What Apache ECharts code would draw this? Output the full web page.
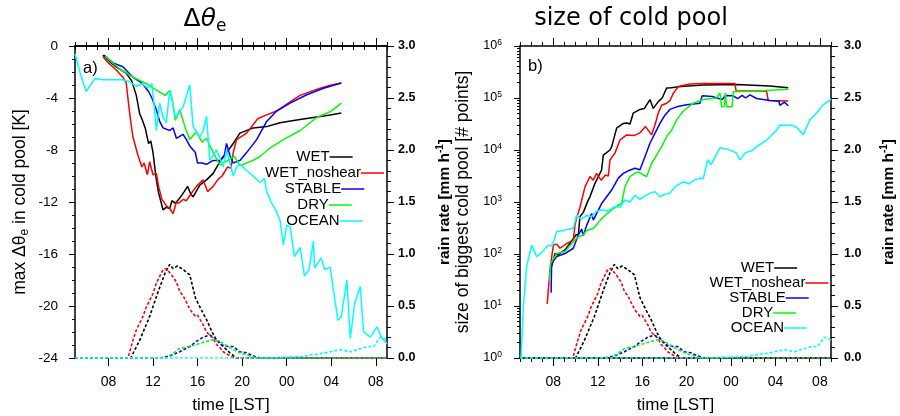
<!DOCTYPE html>
<html><head><meta charset="utf-8">
<script src="https://cdn.jsdelivr.net/npm/echarts@6/dist/echarts.min.js"></script>
<style>html,body{margin:0;padding:0;background:#fff}#c{width:900px;height:416px}</style>
</head><body><div id="c"></div>
<script>
// ---------------- data (time in hours since 00 LST of day 1) ----------------
const names = ['WET', 'WET_noshear', 'STABLE', 'DRY', 'OCEAN'];
const colors = ['#000000', '#ff0000', '#0000ff', '#00ff00', '#00ffff'];
const majorTimes = [8, 12, 16, 20, 24, 28, 32];

// max delta theta_e in cold pool [K]
const wetDth = [[7.5,-0.7],[8.0,-1.1],[8.7,-1.6],[9.6,-2.1],[10.1,-2.7],[10.5,-3.8],[10.8,-5.2],[11.0,-5.6],[11.3,-6.3],[11.6,-7.5],[11.8,-7.3],[12.0,-8.2],[12.3,-10.3],[12.5,-11.3],[12.9,-12.6],[13.2,-12.4],[13.5,-12.5],[13.7,-11.9],[14.0,-12.1],[14.4,-11.7],[14.8,-11.2],[15.1,-10.8],[15.4,-11.4],[15.6,-11.6],[16.2,-10.7],[16.8,-10.3],[17.4,-9.8],[18.0,-8.9],[18.6,-8.2],[19.2,-7.5],[19.8,-6.7],[21.0,-6.3],[22.2,-6.2],[23.4,-5.9],[24.9,-5.7],[26.4,-5.5],[27.9,-5.3],[28.9,-5.15]];
const wetnsDth = [[7.5,-0.8],[8.0,-1.3],[8.7,-1.85],[9.3,-2.4],[9.6,-2.85],[9.8,-4.4],[10.0,-5.8],[10.2,-7.0],[10.65,-8.4],[11.0,-9.3],[11.2,-9.0],[11.5,-9.9],[11.7,-8.9],[12.0,-9.9],[12.3,-9.8],[12.5,-10.8],[12.8,-11.8],[13.2,-12.3],[13.5,-12.5],[13.8,-12.9],[14.1,-12.0],[14.3,-12.1],[14.7,-11.8],[15.0,-11.9],[15.3,-11.5],[15.9,-10.8],[16.5,-10.3],[16.9,-11.2],[17.4,-10.8],[17.8,-10.3],[18.2,-10.0],[18.7,-9.3],[19.0,-9.4],[19.2,-8.2],[19.5,-7.2],[20.4,-6.7],[21.4,-5.6],[22.2,-5.3],[23.1,-5.0],[24.3,-4.3],[25.2,-3.8],[26.0,-3.55],[27.0,-3.25],[28.0,-3.0],[28.9,-2.85]];
const stableDth = [[7.6,-0.7],[8.4,-1.3],[9.3,-1.6],[10.2,-2.4],[11.0,-2.85],[11.6,-3.5],[11.9,-4.0],[12.3,-4.9],[12.6,-5.8],[12.9,-6.3],[13.5,-6.5],[13.8,-6.3],[14.1,-7.1],[14.7,-6.8],[15.0,-7.2],[15.3,-7.7],[15.8,-8.2],[16.0,-9.0],[16.4,-9.0],[16.8,-9.1],[17.4,-8.8],[18.0,-8.8],[18.4,-8.4],[18.6,-7.5],[18.9,-8.4],[19.2,-9.0],[19.8,-8.8],[20.4,-8.2],[21.3,-7.2],[22.2,-5.8],[23.1,-5.0],[24.3,-4.4],[25.8,-3.75],[27.3,-3.25],[28.9,-2.85]];
const dryDth = [[7.7,-0.8],[9.0,-1.75],[10.2,-2.4],[11.4,-2.9],[12.3,-3.4],[13.1,-3.8],[13.5,-3.4],[13.7,-4.0],[14.0,-5.7],[14.4,-4.9],[14.9,-6.3],[15.3,-7.2],[15.9,-6.6],[16.4,-7.4],[16.8,-7.1],[17.4,-8.2],[18.0,-9.15],[18.7,-8.8],[19.3,-8.5],[19.8,-9.2],[20.4,-9.0],[21.0,-8.8],[21.6,-8.5],[22.5,-7.85],[23.7,-7.2],[25.2,-6.5],[26.7,-5.5],[27.9,-5.05],[28.3,-4.8],[28.9,-4.4]];
const oceanDth = [[5.0,-0.6],[5.5,-2.2],[6.0,-3.5],[6.4,-3.0],[6.8,-2.5],[7.5,-2.6],[8.5,-2.6],[9.3,-2.6],[9.9,-2.75],[10.5,-3.1],[11.0,-2.9],[11.5,-3.2],[11.9,-2.9],[12.1,-4.5],[12.3,-6.5],[12.6,-4.4],[12.9,-5.5],[13.2,-5.9],[13.5,-3.4],[13.8,-4.5],[14.0,-5.5],[14.4,-5.0],[14.7,-4.7],[15.3,-3.0],[15.6,-6.2],[16.2,-7.0],[16.5,-6.5],[16.8,-5.4],[17.1,-8.8],[17.7,-8.0],[18.0,-8.6],[18.3,-9.3],[18.6,-8.0],[19.2,-10.0],[19.5,-9.3],[19.8,-9.1],[20.3,-9.5],[21.0,-10.0],[21.6,-10.5],[22.0,-10.2],[22.2,-11.2],[22.6,-12.0],[23.0,-12.6],[23.4,-13.4],[23.7,-15.3],[24.0,-13.8],[24.3,-13.9],[24.7,-16.2],[25.2,-15.5],[25.6,-17.7],[26.0,-17.2],[26.4,-15.0],[26.5,-17.1],[27.1,-16.3],[27.4,-17.2],[27.9,-17.0],[28.2,-18.8],[28.6,-21.1],[28.9,-20.8],[29.4,-18.0],[29.7,-22.5],[30.1,-19.8],[30.6,-18.5],[30.9,-22.0],[31.5,-22.4],[32.1,-21.6],[32.5,-22.4],[33.0,-22.9]];

// rain rate [mm/h]
const wetRain = [[5,0],[10.0,0],[10.8,0.17],[11.7,0.40],[12.5,0.65],[13.1,0.82],[13.5,0.90],[13.8,0.86],[14.2,0.885],[14.7,0.85],[15.3,0.80],[15.8,0.58],[16.4,0.45],[16.8,0.37],[17.3,0.25],[17.7,0.17],[18.3,0.11],[18.9,0.05],[19.5,0],[33,0]];
const wetnsRain = [[5,0],[9.75,0],[10.2,0.17],[10.5,0.27],[11.1,0.40],[11.4,0.49],[12.0,0.62],[12.3,0.72],[12.9,0.85],[13.2,0.86],[13.5,0.82],[13.8,0.78],[14.1,0.73],[14.4,0.64],[14.7,0.60],[15.3,0.47],[15.8,0.40],[16.0,0.41],[16.5,0.32],[16.8,0.25],[17.4,0.19],[17.7,0.13],[18.0,0.10],[18.3,0.06],[18.9,0.02],[19.3,0],[33,0]];
const stableRain = [[5,0],[12.6,0],[13.5,0.02],[14.4,0.06],[15.3,0.11],[15.9,0.16],[16.5,0.20],[17.1,0.22],[17.6,0.19],[18.2,0.125],[18.7,0.11],[19.2,0.11],[19.8,0.06],[20.4,0.05],[21.0,0.02],[21.6,0],[33,0]];
const dryRain = [[5,0],[13.2,0],[14.4,0.09],[15.6,0.12],[16.5,0.15],[17.4,0.175],[18.0,0.16],[18.9,0.10],[19.8,0.05],[20.7,0.02],[21.3,0],[33,0]];
const oceanRain = [[5,0],[22.5,0],[24.3,0.01],[25.5,0.015],[26.1,0.03],[27.3,0.045],[27.9,0.06],[28.8,0.08],[29.7,0.06],[30.9,0.10],[31.3,0.11],[31.8,0.11],[32.4,0.20],[32.7,0.19],[33.0,0.17]];

// size of biggest cold pool [# points]
const wetSize = [[7.7,45],[8.0,76],[8.15,102],[8.4,95],[9.05,120],[9.65,178],[10.05,234],[10.25,234],[10.4,525],[10.7,631],[11.15,1100],[11.3,1260],[11.75,2290],[11.9,2630],[12.35,4170],[12.5,7940],[13.1,10000],[13.25,11500],[13.7,26300],[14.3,32400],[14.6,33100],[14.9,31600],[15.2,51300],[15.8,60300],[16.2,63100],[16.7,93300],[17.0,63100],[17.45,85100],[17.8,100000],[18.2,155000],[18.6,158000],[19.5,166000],[21.5,178000],[24.5,182000],[27.5,170000],[29.15,158000]];
const wetnsSize = [[7.45,11],[7.7,50],[8.0,148],[8.3,155],[8.6,129],[9.2,158],[9.8,186],[9.95,355],[10.1,501],[10.4,794],[10.85,1950],[11.3,3090],[11.6,2630],[11.9,3550],[12.3,2630],[12.7,3310],[12.95,3160],[13.1,6460],[13.55,8710],[14.0,15500],[14.6,19500],[15.3,19100],[15.8,21400],[16.3,28200],[16.85,19500],[17.15,30200],[17.45,51300],[17.75,72400],[18.2,79400],[18.5,89100],[18.8,123000],[19.25,166000],[20.3,186000],[21.5,191000],[24.35,191000],[24.45,138000],[27.2,135000],[27.35,89100],[29.15,87100]];
const stableSize = [[7.8,18],[7.85,66],[8.3,89],[9.05,102],[9.8,129],[10.25,234],[10.55,302],[10.7,224],[11.0,355],[11.45,603],[11.6,447],[12.35,933],[13.25,1700],[13.85,2880],[14.3,3550],[14.75,3980],[15.35,4470],[15.8,4170],[16.25,7410],[16.7,13500],[17.15,20900],[17.6,32400],[18.05,46800],[18.5,60300],[19.1,67600],[20.0,74100],[21.2,79400],[21.4,110000],[22.3,107000],[23.2,93300],[23.5,112000],[24.2,110000],[24.6,97700],[25.0,112000],[25.3,100000],[25.7,115000],[26.3,97700],[27.5,89100],[28.3,87100],[28.4,72400],[28.8,83200],[29.15,70800]];
const drySize = [[7.65,30],[7.75,66],[8.3,102],[9.05,112],[9.65,158],[10.1,204],[10.7,234],[11.0,282],[11.6,309],[12.35,479],[13.25,708],[13.85,871],[14.15,933],[14.45,1950],[14.9,3090],[15.4,3630],[15.65,3800],[16.1,3310],[16.4,3090],[16.85,5500],[17.3,7940],[17.75,11500],[18.2,18200],[18.65,24000],[19.1,38000],[19.7,56200],[20.6,79400],[21.5,93300],[22.7,100000],[23.0,126000],[23.15,67600],[23.4,69200],[23.5,126000],[23.6,67600],[24.1,67600],[24.2,132000],[26.0,135000],[27.5,141000],[29.15,148000]];
const oceanSize = [[5.1,1],[5.3,9.8],[5.6,58],[6.05,148],[6.5,89],[6.95,107],[7.55,148],[7.9,141],[8.3,269],[9.05,288],[9.5,302],[9.8,309],[10.1,562],[10.5,468],[11.0,550],[11.45,525],[11.9,661],[12.35,708],[12.9,676],[13.55,813],[14.0,794],[14.45,1100],[14.9,1000],[15.35,1350],[15.8,1120],[16.3,1320],[16.7,1480],[17.15,1580],[17.6,1260],[18.0,1410],[18.5,1480],[18.95,1950],[19.7,2450],[20.2,2240],[20.7,2630],[21.2,2880],[21.5,2820],[21.9,6460],[22.2,5250],[23.0,11000],[23.6,10500],[24.2,9330],[24.5,8710],[24.8,6460],[25.3,8910],[25.8,9550],[26.3,11500],[27.2,15500],[27.5,17800],[28.1,24000],[28.4,30200],[29.6,29500],[30.0,26300],[30.5,19500],[31.1,38000],[31.7,51300],[32.3,74100],[32.9,91200],[33.0,95500]];

const dthSets = [wetDth, wetnsDth, stableDth, dryDth, oceanDth];
const rainSets = [wetRain, wetnsRain, stableRain, dryRain, oceanRain];
const sizeSets = [wetSize, wetnsSize, stableSize, drySize, oceanSize];

// ---------------- chart ----------------
const F = '"Liberation Sans", Arial, sans-serif';
const FT = '"DejaVu Sans", sans-serif';
const chart = echarts.init(document.getElementById('c'), null, {renderer: 'canvas'});
const black = {color: '#000', width: 1.5};
const pad = v => String(v % 24).padStart(2, '0');

function xAxes(g) {
  const base = {gridIndex: g, type: 'value', min: 5, max: 33, splitLine: {show: false}};
  return [
    {...base, position: 'bottom', interval: 1,
      axisLine: {show: true, lineStyle: black},
      axisTick: {length: 4, lineStyle: {color: '#000', width: 1}},
      axisLabel: {margin: 17, fontSize: 14, color: '#000', fontFamily: F,
        formatter: v => (v % 4 === 0 ? pad(v) : '')},
      name: 'time [LST]', nameLocation: 'middle', nameGap: 39,
      nameTextStyle: {fontSize: 17, color: '#000', fontFamily: F, verticalAlign: 'top'}},
    {...base, position: 'bottom', axisLine: {show: false},
      axisTick: {length: 8, customValues: majorTimes, lineStyle: {color: '#000', width: 1}},
      axisLabel: {show: false}},
    {...base, position: 'top', interval: 1,
      axisLine: {show: true, lineStyle: black},
      axisTick: {length: 4, lineStyle: {color: '#000', width: 1}}, axisLabel: {show: false}},
    {...base, position: 'top', axisLine: {show: false},
      axisTick: {length: 8, customValues: majorTimes, lineStyle: {color: '#000', width: 1}},
      axisLabel: {show: false}}
  ];
}
function rainAxis(g, gap, margin) {
  return {gridIndex: g, type: 'value', position: 'right', min: 0, max: 3, interval: 0.5,
    splitLine: {show: false},
    axisLine: {show: true, lineStyle: black},
    axisTick: {show: true, length: 7, lineStyle: {color: '#000', width: 1}},
    minorTick: {show: true, splitNumber: 5, length: 4, lineStyle: {color: '#000', width: 1}},
    axisLabel: {margin: margin, fontSize: 12.5, fontWeight: 'bold', color: '#000', fontFamily: F,
      formatter: v => v.toFixed(1)},
    name: 'rain rate [mm h{s|-1}]', nameLocation: 'middle', nameGap: gap, nameRotate: 90,
    nameTextStyle: {fontSize: 15.5, fontWeight: 'bold', color: '#000', fontFamily: F, lineHeight: 20,
      rich: {s: {fontSize: 10, fontWeight: 'bold', fontFamily: F, color: '#000', verticalAlign: 'top', lineHeight: 10}}}
  };
}

const minorLog = [];
for (let d = 0; d < 6; d++) for (let k = 2; k <= 9; k++) minorLog.push(d + Math.log10(k));

const yAxis = [
  // panel a left
  {gridIndex: 0, type: 'value', position: 'left', min: -24, max: 0, interval: 4,
    splitLine: {show: false},
    axisLine: {show: true, lineStyle: black},
    axisTick: {length: 6, lineStyle: {color: '#000', width: 1}},
    minorTick: {show: true, splitNumber: 4, length: 3, lineStyle: {color: '#000', width: 1}},
    axisLabel: {margin: 17, fontSize: 13.5, color: '#000', fontFamily: F},
    name: 'max Δθ{e|e} in cold pool [K]', nameLocation: 'middle', nameGap: 44, nameRotate: 90,
    nameTextStyle: {fontSize: 17.5, color: '#000', fontFamily: F, lineHeight: 22,
      rich: {e: {fontSize: 12, fontFamily: F, color: '#000', verticalAlign: 'bottom', lineHeight: 12}}}},
  // panel a right
  rainAxis(0, 48, 11),
  // panel b left (log)
  {gridIndex: 1, type: 'log', logBase: 10, position: 'left', min: 1, max: 1000000,
    splitLine: {show: false},
    axisLine: {show: true, lineStyle: black},
    axisTick: {length: 6, lineStyle: {color: '#000', width: 1}},
    axisLabel: {margin: 18, fontSize: 12.5, color: '#000', fontFamily: F, lineHeight: 16,
      formatter: v => '10{s|' + Math.round(Math.log10(v)) + '}',
      rich: {s: {fontSize: 8.5, fontFamily: F, color: '#000', verticalAlign: 'top', lineHeight: 8}}},
    name: 'size of biggest cold pool [# points]', nameLocation: 'middle', nameGap: 48, nameRotate: 90,
    nameTextStyle: {fontSize: 17.5, color: '#000', fontFamily: F}},
  // panel b minor log ticks
  {gridIndex: 1, type: 'value', position: 'left', min: 0, max: 6,
    splitLine: {show: false}, axisLine: {show: false},
    axisTick: {length: 3, customValues: minorLog, lineStyle: {color: '#000', width: 1}},
    axisLabel: {show: false}},
  // panel b right
  rainAxis(1, 48, 13)
];

const series = [];
dthSets.forEach((d, i) => series.push({type: 'line', name: names[i], xAxisIndex: 0, yAxisIndex: 0,
  data: d, showSymbol: false, symbol: 'none', lineStyle: {color: colors[i], width: 1.5}, z: 3}));
rainSets.forEach((d, i) => series.push({type: 'line', name: names[i] + ' rain', xAxisIndex: 0, yAxisIndex: 1,
  data: d, showSymbol: false, symbol: 'none', lineStyle: {color: colors[i], width: 1.6, type: [3, 2]}, z: 2}));
sizeSets.forEach((d, i) => series.push({type: 'line', name: names[i], xAxisIndex: 4, yAxisIndex: 2,
  data: d, showSymbol: false, symbol: 'none', lineStyle: {color: colors[i], width: 1.5}, z: 3}));
rainSets.forEach((d, i) => series.push({type: 'line', name: names[i] + ' rain', xAxisIndex: 4, yAxisIndex: 4,
  data: d, showSymbol: false, symbol: 'none', lineStyle: {color: colors[i], width: 1.6, type: [3, 2]}, z: 2}));
series.forEach(s => { s.animation = false; s.silent = true; });

// legend (text followed by line sample, centred)
const LF = 15;
const ctx = document.createElement('canvas').getContext('2d');
ctx.font = LF + 'px "Liberation Sans"';
const lineLen = 23;
function legend(cx, ys) {
  const out = [];
  names.forEach((n, i) => {
    const tw = ctx.measureText(n).width;
    const x0 = cx - (tw + lineLen) / 2;
    out.push({type: 'text', x: x0, y: ys[i], z: 10,
      style: {text: n, fontSize: LF, fontFamily: '"Liberation Sans"', fill: '#000', verticalAlign: 'middle', align: 'left'}});
    out.push({type: 'line', z: 10, shape: {x1: x0 + tw, y1: ys[i], x2: x0 + tw + lineLen, y2: ys[i]},
      style: {stroke: colors[i], lineWidth: 1.5}});
  });
  return out;
}

const graphic = [
  {type: 'text', x: 205, y: 19, style: {text: '{d|Δ}{t|θ}{e|e}', align: 'center', verticalAlign: 'middle',
    rich: {d: {fontSize: 25, fontFamily: FT, fill: '#000', lineHeight: 32},
           t: {fontSize: 25, fontFamily: FT, fontStyle: 'italic', fill: '#000', lineHeight: 32},
           e: {fontSize: 17, fontFamily: FT, fill: '#000', verticalAlign: 'bottom', lineHeight: 17}}}},
  {type: 'text', x: 631, y: 19, style: {text: 'size of cold pool', fontSize: 24, fontFamily: FT, fill: '#000',
    align: 'center', verticalAlign: 'middle'}},
  {type: 'text', x: 83, y: 68, style: {text: 'a)', fontSize: 16.5, fontFamily: F, fill: '#000', verticalAlign: 'middle'}},
  {type: 'text', x: 528, y: 66, style: {text: 'b)', fontSize: 16.5, fontFamily: F, fill: '#000', verticalAlign: 'middle'}},
  ...legend(324.5, [157, 173, 189, 205, 221]),
  ...legend(769, [268, 283, 298, 313, 328])
];

chart.setOption({
  animation: false,
  backgroundColor: '#fff',
  grid: [
    {left: 75, top: 46, width: 312, height: 312, containLabel: false, outerBoundsMode: 'none'},
    {left: 520, top: 46, width: 311, height: 312, containLabel: false, outerBoundsMode: 'none'}
  ],
  xAxis: [...xAxes(0), ...xAxes(1)],
  yAxis: yAxis,
  series: series,
  graphic: graphic
});
</script></body></html>
